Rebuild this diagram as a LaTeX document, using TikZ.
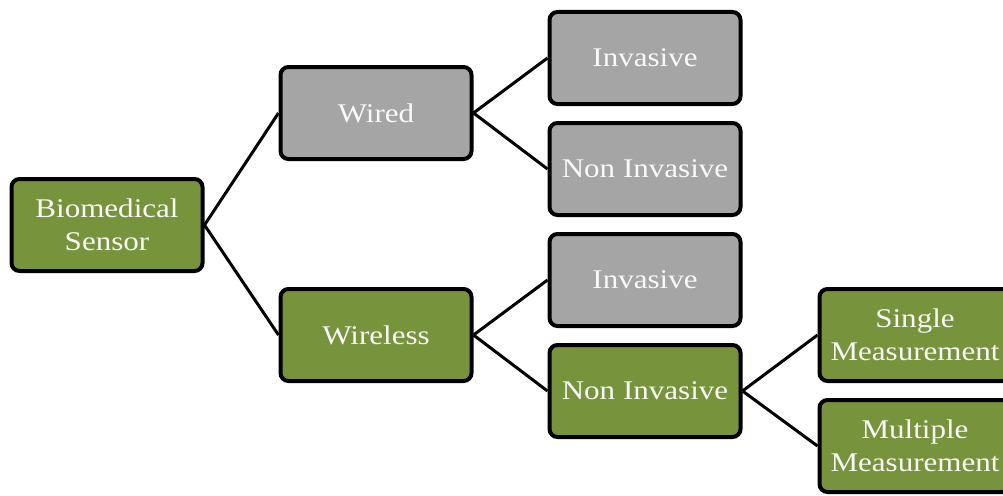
\documentclass[tikz,border=0pt]{standalone}
\usepackage{fontspec}
\setmainfont[FakeStretch=1.15]{Liberation Serif}
\definecolor{sensgreen}{HTML}{77933C}
\definecolor{sensgray}{HTML}{A5A5A5}
\begin{document}
\begin{tikzpicture}[x=1pt,y=-1pt]
          \tikzstyle{every node}=[draw=black,line width=4pt,rounded corners=8pt,
            minimum width=191pt,minimum height=92pt,align=center,text=white!95!gray,
            font=\fontsize{27}{33}\selectfont];
          \tikzstyle{green box}=[fill=sensgreen];
          \tikzstyle{gray box}=[fill=sensgray];
          \useasboundingbox (0,0) rectangle (1003,495);
          \clip (0,0) rectangle (1003,495);
          %first level
          \node[green box] (sensor) at (107,225) {Biomedical\\Sensor};
          \node[gray box] (wired) at (376,113) {Wired};
          \node[green box] (wireless) at (376,335) {Wireless};
          %second level
          \node[gray box] (wdinv) at (645,58) {Invasive};
          \node[gray box] (wdnon) at (645,169) {Non Invasive};
          \node[gray box] (wlinv) at (645,280) {Invasive};
          \node[green box] (wlnon) at (645,391) {Non Invasive};
          %third level
          \node[green box] (single) at (915,335) {Single\\Measurement};
          \node[green box] (multi) at (915,446) {Multiple\\Measurement};
          \draw[line width=3pt] (sensor.east)--(wired.west);
          \draw[line width=3pt] (sensor.east)--(wireless.west);
          \draw[line width=3pt] (wired.east)--(wdinv.west);
          \draw[line width=3pt] (wired.east)--(wdnon.west);
          \draw[line width=3pt] (wireless.east)--(wlinv.west);
          \draw[line width=3pt] (wireless.east)--(wlnon.west);
          \draw[line width=3pt] (wlnon.east)--(single.west);
          \draw[line width=3pt] (wlnon.east)--(multi.west);
      \end{tikzpicture}
\end{document}
